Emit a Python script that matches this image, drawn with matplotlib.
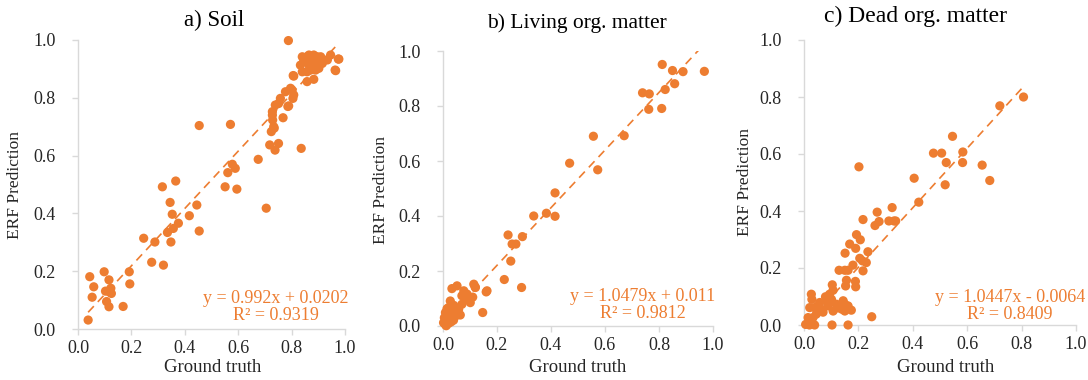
import matplotlib
matplotlib.use('Agg')
import matplotlib.pyplot as plt
import numpy as np

plt.rcParams['font.family'] = ['Liberation Serif', 'DejaVu Serif']

ORANGE = '#ED7D31'
GRID_GRAY = '#D9D9D9'
TEXT_GRAY = '#262626'

# a) Soil
soil_x = [0.038, 0.044, 0.059, 0.053, 0.098, 0.103, 0.107, 0.116, 0.116, 0.123,
          0.125, 0.118, 0.169, 0.192, 0.194, 0.246, 0.276, 0.288, 0.316, 0.320,
          0.335, 0.345, 0.348, 0.353, 0.357, 0.366, 0.376, 0.417, 0.445, 0.454,
          0.454, 0.551, 0.561, 0.571, 0.578, 0.589, 0.595, 0.675, 0.705, 0.718,
          0.724, 0.728, 0.728, 0.729, 0.733, 0.738, 0.735, 0.751, 0.739, 0.751,
          0.768, 0.758, 0.777, 0.789, 0.788, 0.796, 0.802, 0.808, 0.805, 0.808,
          0.836, 0.833, 0.840, 0.846, 0.858, 0.865, 0.871, 0.877, 0.883, 0.890,
          0.896, 0.902, 0.909, 0.915, 0.921, 0.934, 0.946, 0.858, 0.883, 0.871,
          0.858, 0.840, 0.915, 0.846, 0.877, 0.896, 0.890, 0.865, 0.852, 0.902,
          0.965, 0.977, 0.975, 0.963, 0.806, 0.786]
soil_y = [0.031, 0.181, 0.146, 0.110, 0.198, 0.131, 0.095, 0.077, 0.170, 0.141,
          0.123, 0.128, 0.078, 0.198, 0.156, 0.314, 0.231, 0.301, 0.492, 0.221,
          0.334, 0.438, 0.301, 0.397, 0.348, 0.512, 0.366, 0.392, 0.429, 0.704,
          0.339, 0.492, 0.541, 0.708, 0.570, 0.556, 0.484, 0.587, 0.418, 0.637,
          0.683, 0.740, 0.752, 0.723, 0.700, 0.619, 0.695, 0.642, 0.775, 0.780,
          0.731, 0.798, 0.821, 0.772, 0.998, 0.833, 0.827, 0.810, 0.798, 0.875,
          0.625, 0.913, 0.942, 0.931, 0.942, 0.948, 0.931, 0.919, 0.948, 0.908,
          0.942, 0.902, 0.942, 0.925, 0.931, 0.931, 0.948, 0.856, 0.864, 0.896,
          0.890, 0.890, 0.919, 0.925, 0.908, 0.925, 0.896, 0.913, 0.936, 0.919,
          0.894, 0.934, 0.934, 0.896, 0.877, 0.770]

# b) Living org. matter
living_x = [0.812, 0.850, 0.889, 0.968, 0.739, 0.764, 0.823, 0.858, 0.762, 0.810,
            0.557, 0.671, 0.469, 0.573, 0.415, 0.336, 0.383, 0.415, 0.241, 0.256,
            0.270, 0.294, 0.251, 0.227, 0.291, 0.147, 0.160, 0.119, 0.033, 0.052,
            0.077, 0.114, 0.120, 0.163, 0.083, 0.095, 0.101, 0.070, 0.058, 0.027,
            0.021, 0.009, 0.015, 0.002, 0.033, 0.046, 0.027, 0.009, 0.089, 0.070,
            0.039, 0.015, 0.005, 0.021, 0.052, 0.110, 0.064, 0.012, 0.040, 0.030]
living_y = [0.951, 0.929, 0.925, 0.926, 0.848, 0.844, 0.860, 0.881, 0.788, 0.791,
            0.690, 0.692, 0.592, 0.568, 0.484, 0.400, 0.410, 0.399, 0.331, 0.298,
            0.298, 0.325, 0.236, 0.169, 0.140, 0.049, 0.124, 0.142, 0.136, 0.146,
            0.128, 0.152, 0.140, 0.128, 0.097, 0.097, 0.085, 0.079, 0.061, 0.091,
            0.067, 0.049, 0.030, 0.012, 0.049, 0.036, 0.025, 0.005, 0.116, 0.110,
            0.021, 0.063, 0.030, 0.010, 0.057, 0.105, 0.040, 0.001, 0.075, 0.015]

# c) Dead org. matter
dead_x = [0.807, 0.720, 0.546, 0.476, 0.506, 0.584, 0.523, 0.583, 0.655, 0.683,
          0.519, 0.405, 0.422, 0.202, 0.217, 0.269, 0.276, 0.261, 0.312, 0.324,
          0.331, 0.337, 0.193, 0.207, 0.168, 0.151, 0.190, 0.235, 0.205, 0.215,
          0.229, 0.217, 0.180, 0.129, 0.150, 0.162, 0.156, 0.153, 0.189, 0.190,
          0.249, 0.104, 0.107, 0.094, 0.101, 0.144, 0.150, 0.131, 0.150, 0.174,
          0.162, 0.119, 0.082, 0.079, 0.058, 0.064, 0.039, 0.027, 0.029, 0.021,
          0.015, 0.033, 0.039, 0.006, 0.020, 0.103, 0.162, 0.107, 0.088, 0.052,
          0.045, 0.070, 0.125, 0.140, 0.098]
dead_y = [0.800, 0.769, 0.662, 0.603, 0.603, 0.607, 0.570, 0.570, 0.561, 0.507,
          0.492, 0.515, 0.431, 0.555, 0.370, 0.396, 0.363, 0.349, 0.365, 0.412,
          0.365, 0.365, 0.317, 0.299, 0.284, 0.252, 0.269, 0.257, 0.234, 0.225,
          0.219, 0.190, 0.210, 0.192, 0.192, 0.192, 0.157, 0.137, 0.153, 0.134,
          0.029, 0.141, 0.122, 0.108, 0.090, 0.085, 0.073, 0.061, 0.049, 0.052,
          0.067, 0.073, 0.085, 0.099, 0.079, 0.055, 0.061, 0.108, 0.090, 0.061,
          0.026, 0.026, 0.000, 0.002, 0.000, 0.000, 0.000, 0.049, 0.067, 0.067,
          0.038, 0.045, 0.060, 0.055, 0.080]

titles = ['a) Soil', 'b) Living org. matter', 'c) Dead org. matter']
slopes = [0.992, 1.0479, 1.0447]
intercepts = [0.0202, 0.011, -0.0064]
r2_values = ['0.9319', '0.9812', '0.8409']
eq_texts = ['y = 0.992x + 0.0202', 'y = 1.0479x + 0.011', 'y = 1.0447x - 0.0064']

W, H = 1088, 380
fig = plt.figure(figsize=(W / 100, H / 100), dpi=100)

# axes boxes in pixels: left, right, top, bottom
boxes = [(78, 345, 40, 329), (443, 713, 51, 326), (804, 1076, 40, 325)]
title_pos = [(214, 20), (577, 23), (915, 16)]
title_size = [16.5, 15.5, 17]
ylabel_pos = [(15, 185), (381, 190), (745, 182)]
xlabel_pos = [(213, 367), (578, 367), (946, 367)]
eq_pos = [(276, 307), (643, 305), (1010, 306)]

data = [(soil_x, soil_y), (living_x, living_y), (dead_x, dead_y)]

for i, (xs, ys) in enumerate(data):
    l, r, t, b = boxes[i]
    ax = fig.add_axes([l / W, 1 - b / H, (r - l) / W, (b - t) / H])
    ax.scatter(xs, ys, s=44, color=ORANGE, edgecolors='none', zorder=3, clip_on=False)

    # trend line over data range
    xl = np.array([min(xs), max(xs)])
    ax.plot(xl, slopes[i] * xl + intercepts[i], color=ORANGE, lw=1.2,
            dashes=(5, 3.5), zorder=2)

    ax.set_xlim(0, 1)
    ax.set_ylim(0, 1)
    ticks = [0.0, 0.2, 0.4, 0.6, 0.8, 1.0]
    ax.set_xticks(ticks)
    ax.set_yticks(ticks)
    ax.set_xticklabels([f'{v:.1f}' for v in ticks])
    ax.set_yticklabels([f'{v:.1f}' for v in ticks])
    ax.tick_params(axis='both', color=GRID_GRAY, length=4, width=1,
                   labelsize=13, labelcolor=TEXT_GRAY)
    ax.tick_params(axis='x', pad=4)
    ax.tick_params(axis='y', pad=12)
    for side in ['top', 'right']:
        ax.spines[side].set_visible(False)
    for side in ['left', 'bottom']:
        ax.spines[side].set_color(GRID_GRAY)
        ax.spines[side].set_linewidth(1)
    ax.patch.set_alpha(0)

    tx, ty = title_pos[i]
    fig.text(tx / W, 1 - ty / H, titles[i], ha='center', va='center',
             fontsize=title_size[i], color='black')
    yx, yy = ylabel_pos[i]
    fig.text(yx / W, 1 - yy / H, 'ERF Prediction', ha='center', va='center',
             rotation=90, fontsize=12.5, color=TEXT_GRAY)
    xx, xy = xlabel_pos[i]
    fig.text(xx / W, 1 - xy / H, 'Ground truth', ha='center', va='center',
             fontsize=13.5, color=TEXT_GRAY)
    ex, ey = eq_pos[i]
    fig.text(ex / W, 1 - ey / H, eq_texts[i] + '\nR² = ' + r2_values[i],
             ha='center', va='center', multialignment='center',
             fontsize=13, color=ORANGE, linespacing=1.05)

fig.savefig('out.png', dpi=100)
